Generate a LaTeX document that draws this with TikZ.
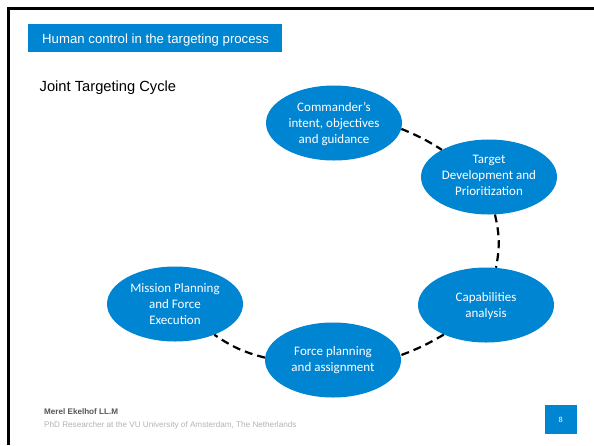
\documentclass[tikz,border=0pt]{standalone}
\usepackage{fontspec}
\setmainfont{Liberation Sans}
\newfontfamily\carlito{Carlito}
\usetikzlibrary{shapes.geometric}
\definecolor{vublue}{HTML}{0085D2}
\definecolor{footdark}{HTML}{555555}
\definecolor{footgray}{HTML}{B4B4B4}
\tikzset{
  stage/.style={ellipse,fill=vublue,draw=none,text=white,inner sep=0pt,
    minimum width=136pt,minimum height=75pt,align=center,
    font=\carlito\fontsize{13}{16}\selectfont},
  link/.style={line width=2.2pt,black,dash pattern=on 8pt off 5pt},
  band/.style={fill=vublue,text=white,inner sep=0pt,anchor=north west},
  plain/.style={anchor=west,inner sep=0pt}
}
\begin{document}
\begin{tikzpicture}[x=1pt,y=-1pt]
\useasboundingbox (0,0) rectangle (594,445);
\fill[white] (0,0) rectangle (594,445);
\draw[line width=3pt,black] (8,445) -- (8,8) -- (594,8);
\node[band,minimum width=254pt,minimum height=28pt] (title) at (28,24) {};
\node[plain,text=white,font=\fontsize{13.2}{15}\selectfont] (titletext) at (42,40) {Human control in the targeting process};
\node[plain,font=\fontsize{14.7}{17}\selectfont] (sub) at (39.5,87.5) {Joint Targeting Cycle};
\node[stage] (cmd) at (334,123) {\rule{0pt}{11pt}Commander’s\\intent, objectives\\and guidance};
\node[stage] (tgt) at (489,177) {Target\\Development and\\Prioritization\rule[-4pt]{0pt}{4pt}};
\node[stage] (cap) at (486,305) {\rule{0pt}{11pt}Capabilities\\analysis};
\node[stage] (frc) at (333,360) {Force planning\\and assignment};
\node[stage] (msn) at (175,304) {Mission Planning\\and Force\\Execution};
\draw[link] (cmd.-5) to[bend left=5] (tgt.150);
\draw[link] (tgt.-81) to[bend left=12] (cap.75);
\draw[link] (cap.215) to[bend left=5] (frc.4);
\draw[link] (frc.178) to[bend left=10] (msn.-38);
\node[plain,text=footdark,font=\bfseries\fontsize{8.1}{10}\selectfont] (author) at (44,412) {Merel Ekelhof LL.M};
\node[plain,text=footgray,font=\fontsize{8.15}{10}\selectfont] (role) at (44,425) {PhD Researcher at the VU University of Amsterdam, The Netherlands};
\node[band,minimum width=32pt,minimum height=28.5pt,font=\fontsize{7.5}{9}\selectfont] (page) at (544.5,405) {8};
\end{tikzpicture}
\end{document}
